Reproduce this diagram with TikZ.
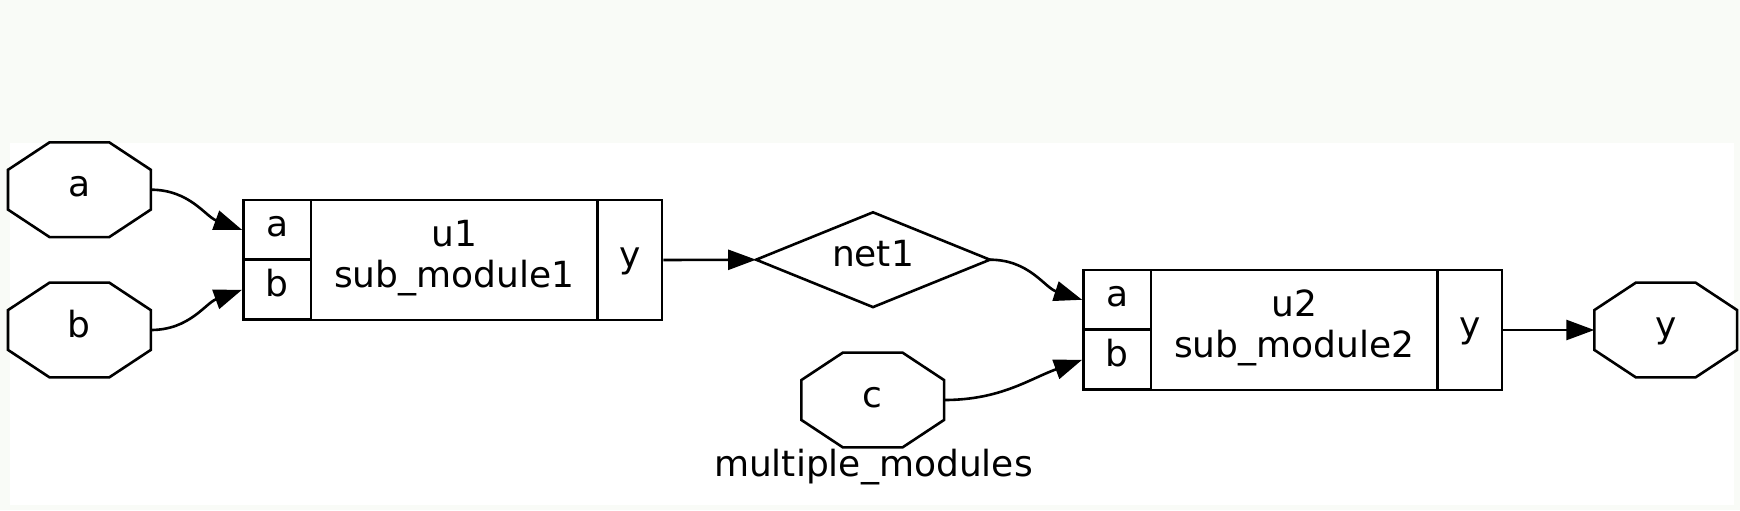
\documentclass[tikz,border=0pt]{standalone}
\usepackage{fontspec}
\setmainfont{DejaVu Sans}
\usetikzlibrary{arrows.meta,calc}
\definecolor{bgtop}{HTML}{F9FBF7}
\begin{document}
\begin{tikzpicture}[x=0.5pt,y=-0.5pt,
  lw/.style={line width=1.3pt},
  txt/.style={font=\fontsize{18pt}{20.5pt}\selectfont, text height=12pt, text depth=5pt, inner sep=0pt},
  octo/.style={txt, minimum width=71pt, minimum height=47pt},
  netbox/.style={txt, minimum width=116.5pt, minimum height=47pt},
  portcell/.style={txt, draw, lw, minimum width=33.85pt, minimum height=29.85pt},
  midcell/.style={txt, text height=32.5pt, text depth=5pt, draw, lw, align=center, minimum width=143.15pt, minimum height=60pt},
  outcell/.style={txt, draw, lw, minimum width=32.35pt, minimum height=60pt},
  wire/.style={lw, -{Triangle[length=14pt,width=10pt]}}
]
\useasboundingbox (0,0) rectangle (1740,510);
\fill[bgtop] (0,0) rectangle (1740,510);
\fill[white] (9.5,142.5) rectangle (1734,505);

% ports (octagons)
\node[octo] (a) at (79.4,189.7) {a};
\node[octo] (b) at (79.4,330) {b};
\node[octo] (c) at (872.7,400) {c};
\node[octo] (yo) at (1665.7,330) {y};
\foreach \n in {a,b,c,yo} {
  \draw[lw] ($(\n.north west)+(41.6,0)$) -- ($(\n.north east)+(-41.6,0)$)
    -- ($(\n.north east)+(0,27.5)$) -- ($(\n.south east)+(0,-27.5)$)
    -- ($(\n.south east)+(-41.6,0)$) -- ($(\n.south west)+(41.6,0)$)
    -- ($(\n.south west)+(0,-27.5)$) -- ($(\n.north west)+(0,27.5)$) -- cycle;
}

% u1
\node[portcell] (u1a) at (277.15,229.8) {a};
\node[portcell] (u1b) at (277.15,289.8) {b};
\node[midcell] (u1m) at (454.15,260) {u1\\sub\_module1};
\node[outcell] (u1y) at (629.65,260) {y};

% u2
\node[portcell] (u2a) at (1117.25,299.8) {a};
\node[portcell] (u2b) at (1117.25,359.8) {b};
\node[midcell] (u2m) at (1294.25,330) {u2\\sub\_module2};
\node[outcell] (u2y) at (1469.75,330) {y};

% net1
\node[netbox] (net1) at (873,259.7) {net1};
\draw[lw] (net1.north) -- (net1.east) -- (net1.south) -- (net1.west) -- cycle;

% label
\node[txt] (lbl) at (873.4,469.7) {multiple\_modules};

% wires
\draw[wire] (a.east) to[out=0,in=160] (u1a.west);
\draw[wire] (b.east) to[out=0,in=200] (u1b.west);
\draw[wire] (u1y.east) -- (net1.west);
\draw[wire] (net1.east) to[out=0,in=162] (u2a.west);
\draw[wire] (c.east) to[out=0,in=200] (u2b.west);
\draw[wire] (u2y.east) -- (yo.west);
\end{tikzpicture}
\end{document}
